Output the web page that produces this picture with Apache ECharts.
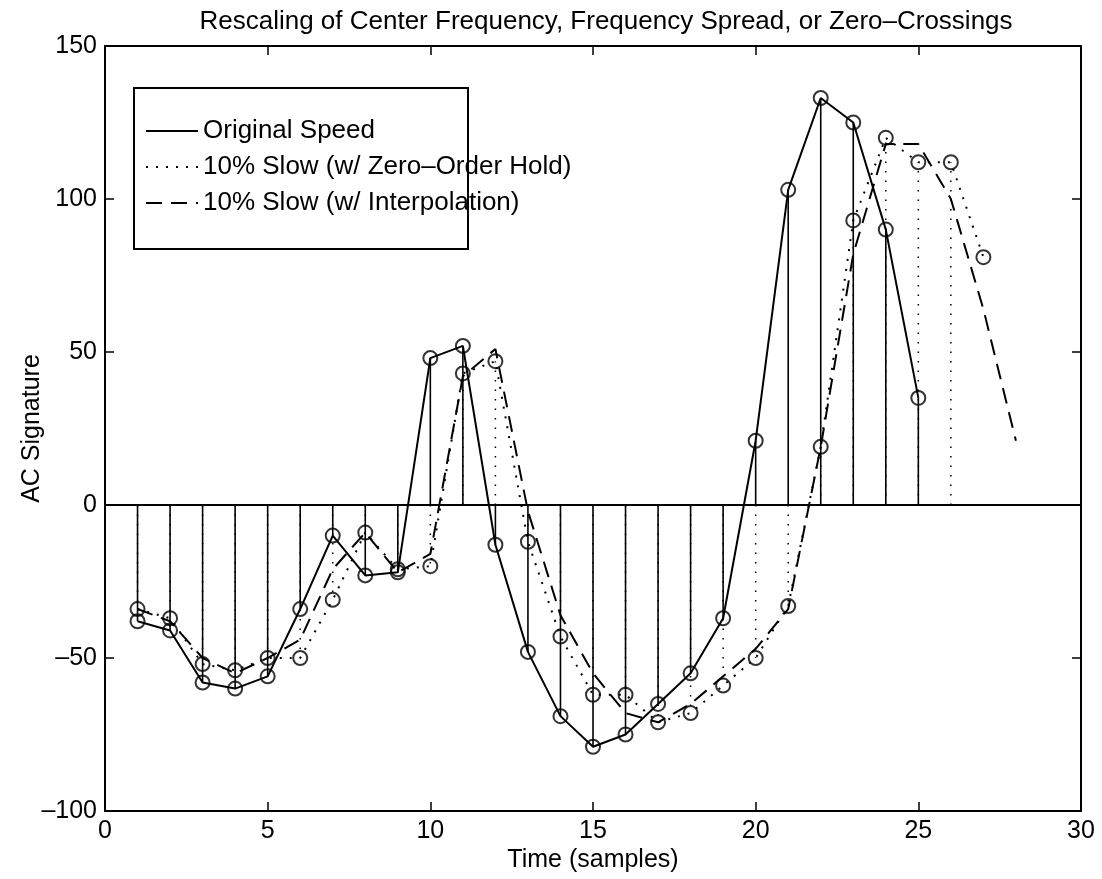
<!DOCTYPE html>
<html><head><meta charset="utf-8">
<script src="https://cdn.jsdelivr.net/npm/echarts@6/dist/echarts.min.js"></script>
<style>html,body{margin:0;padding:0;background:#fff}#c{width:1102px;height:879px}</style>
</head><body><div id="c"></div>
<script>
// ---- data ----
const titleText = 'Rescaling of Center Frequency, Frequency Spread, or Zero–Crossings';
const xAxisName = 'Time (samples)';
const yAxisName = 'AC Signature';
const seriesNames = ['Original Speed', '10% Slow (w/ Zero–Order Hold)', '10% Slow (w/ Interpolation)'];

const xTickValues = [0, 5, 10, 15, 20, 25, 30];
const yTickValues = [-100, -50, 0, 50, 100, 150];

const origX = [1,2,3,4,5,6,7,8,9,10,11,12,13,14,15,16,17,18,19,20,21,22,23,24,25];
const origY = [-38,-41,-58,-60,-56,-34,-10,-23,-22,48,52,-13,-48,-69,-79,-75,-65,-55,-37,21,103,133,125,90,35];

const zohX = [1,2,3,4,5,6,7,8,9,10,11,12,13,14,15,16,17,18,19,20,21,22,23,24,25,26,27];
const zohY = [-34,-37,-52,-54,-50,-50,-31,-9,-21,-20,43,47,-12,-43,-62,-62,-71,-68,-59,-50,-33,19,93,120,112,112,81];
// dotted stems visible for the first 26 zero-order-hold samples
const zohStemX = [1,2,3,4,5,6,7,8,9,10,11,12,13,14,15,16,17,18,19,20,21,22,23,24,25,26];
const zohStemY = [-34,-37,-52,-54,-50,-50,-31,-9,-21,-20,43,47,-12,-43,-62,-62,-71,-68,-59,-50,-33,19,93,120,112,112];

const interpX = [1,2,3,4,5,6,7,8,9,10,11,12,13,14,15,16,17,18,19,20,21,22,23,24,25,26,27,28];
const interpY = [-34,-38,-50,-55,-50,-44,-21,-9,-22,-16,42,51,-2,-36,-55,-68,-71,-65,-56,-47,-34,19,82,118,118,100,64,21];

// ---- chart ----
const FONT = 'Liberation Sans, Arial, Helvetica, sans-serif';
const pairs = (xs, ys) => xs.map((x, i) => [x, ys[i]]);

function stemSeries(name, xs, ys, width, dash, z) {
  return {
    type: 'custom', name: name, silent: true, z: z, animation: false,
    data: pairs(xs, ys),
    renderItem: function (params, api) {
      const p0 = api.coord([api.value(0), 0]);
      const p1 = api.coord([api.value(0), api.value(1)]);
      return {
        type: 'line',
        shape: { x1: p0[0], y1: p0[1], x2: p1[0], y2: p1[1] },
        style: { stroke: '#000', lineWidth: width, lineDash: dash, fill: null }
      };
    }
  };
}

const xMin = xTickValues[0], xMax = xTickValues[xTickValues.length - 1];
const yMin = yTickValues[0], yMax = yTickValues[yTickValues.length - 1];
const xStep = xTickValues[1] - xTickValues[0];
const yStep = yTickValues[1] - yTickValues[0];
const fmt = v => String(v).replace('-', '–');

const axisCommon = {
  type: 'value',
  axisLine: { show: true, onZero: false, lineStyle: { color: '#000', width: 2 } },
  axisTick: { show: true, inside: true, length: 9, lineStyle: { color: '#000', width: 1.5 } },
  splitLine: { show: false }
};

const chart = echarts.init(document.getElementById('c'), null, { renderer: 'canvas' });
chart.setOption({
  animation: false,
  backgroundColor: '#fff',
  title: {
    text: titleText, left: 601, top: 4, textAlign: 'center',
    textStyle: { fontFamily: FONT, fontSize: 26, fontWeight: 'normal', color: '#000' }
  },
  grid: { left: 105, right: 21, top: 46, bottom: 68, containLabel: false },
  xAxis: [
    Object.assign({}, axisCommon, {
      min: xMin, max: xMax, interval: xStep, position: 'bottom',
      axisLabel: { color: '#000', fontFamily: FONT, fontSize: 25, margin: 8, formatter: fmt },
      name: xAxisName, nameLocation: 'middle', nameGap: 37, nameMoveOverlap: false,
      nameTextStyle: { color: '#000', fontFamily: FONT, fontSize: 25 }
    }),
    Object.assign({}, axisCommon, {
      min: xMin, max: xMax, interval: xStep, position: 'top',
      axisLabel: { show: false }
    })
  ],
  yAxis: [
    Object.assign({}, axisCommon, {
      min: yMin, max: yMax, interval: yStep, position: 'left',
      axisLabel: { color: '#000', fontFamily: FONT, fontSize: 25, margin: 8, formatter: fmt },
      name: yAxisName, nameLocation: 'middle', nameGap: 60, nameMoveOverlap: false,
      nameTextStyle: { color: '#000', fontFamily: FONT, fontSize: 25 }
    }),
    Object.assign({}, axisCommon, {
      min: yMin, max: yMax, interval: yStep, position: 'right',
      axisLabel: { show: false }
    })
  ],
  legend: {
    data: seriesNames, orient: 'vertical', left: 145, top: 118, padding: 0,
    itemWidth: 52, itemHeight: 14, itemGap: 10, z: 10,
    selectedMode: false,
    itemStyle: { opacity: 0 },
    textStyle: { color: '#000', fontFamily: FONT, fontSize: 26, lineHeight: 26 }
  },
  graphic: [{
    type: 'rect', left: 133, top: 87, z: 3, silent: true,
    shape: { width: 334, height: 161 },
    style: { fill: '#fff', stroke: '#000', lineWidth: 2 }
  }],
  series: [
    stemSeries('stem-zoh', zohStemX, zohStemY, 1.5, [1.5, 8], 1),
    stemSeries('stem-orig', origX, origY, 1.6, null, 2),
    {
      type: 'line', name: seriesNames[0], data: pairs(origX, origY), symbol: 'none', z: 4,
      lineStyle: { color: '#000', width: 2, type: 'solid' }, itemStyle: { color: '#000' },
      markLine: {
        silent: true, symbol: 'none', animation: false,
        label: { show: false },
        lineStyle: { color: '#000', width: 2, type: 'solid' },
        data: [{ yAxis: 0 }]
      }
    },
    {
      type: 'line', name: seriesNames[1], data: pairs(zohX, zohY), symbol: 'none', z: 4,
      lineStyle: { color: '#000', width: 2, type: [2, 8] }, itemStyle: { color: '#000' }
    },
    {
      type: 'line', name: seriesNames[2], data: pairs(interpX, interpY), symbol: 'none', z: 4,
      lineStyle: { color: '#000', width: 2, type: [16, 9] }, itemStyle: { color: '#000' }
    },
    {
      type: 'scatter', name: 'orig-markers', data: pairs(origX, origY), z: 5,
      symbol: 'circle', symbolSize: 14,
      itemStyle: { color: 'rgba(0,0,0,0)', borderColor: '#000', borderWidth: 2 }
    },
    {
      type: 'scatter', name: 'zoh-markers', data: pairs(zohX, zohY), z: 5,
      symbol: 'circle', symbolSize: 14,
      itemStyle: { color: 'rgba(0,0,0,0)', borderColor: '#000', borderWidth: 2 }
    }
  ]
});
</script>
</body></html>
